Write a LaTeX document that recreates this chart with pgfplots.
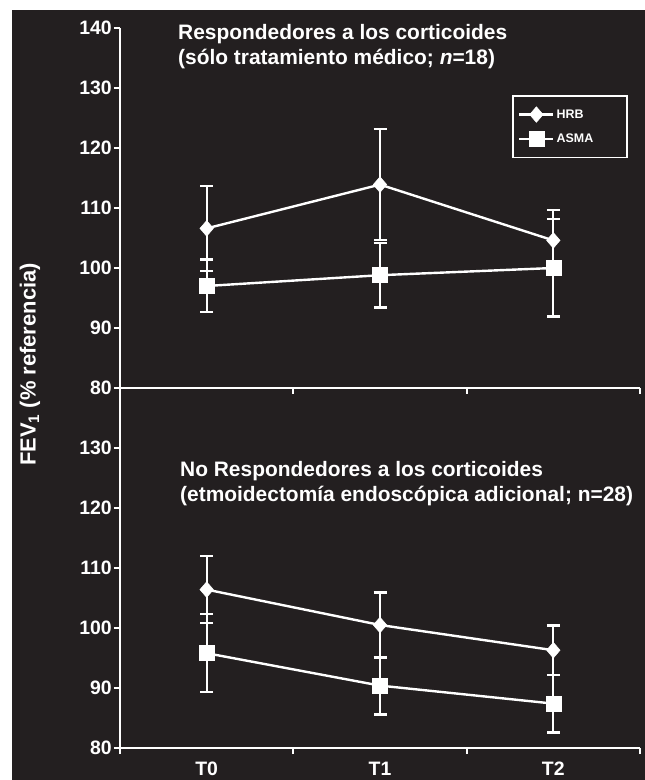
\documentclass[border=0pt]{standalone}
\usepackage{pgfplots}
\pgfplotsset{compat=1.18}
\usepackage{pgfplotstable}
\usepackage{fontspec}
\setmainfont{Liberation Sans}
\definecolor{bg}{RGB}{35,31,32}

\pgfplotstableread{
x y e
0 106.6 7.1
1 113.9 9.3
2 104.6 5.1
}\tophrb
\pgfplotstableread{
x y e
0 97.0 4.4
1 98.8 5.4
2 100.0 8.1
}\topasma
\pgfplotstableread{
x y e
0 106.4 5.6
1 100.5 5.4
2 96.3 4.1
}\bothrb
\pgfplotstableread{
x y e
0 95.8 6.5
1 90.4 4.8
2 87.4 4.8
}\botasma

\begin{document}
\begin{tikzpicture}
\fill[white] (-120bp,-32bp) rectangle (525bp,748bp);
\fill[bg] (-108bp,-32bp) rectangle (525bp,738bp);
\pgfplotsset{
  panel/.style={
    scale only axis, width=520bp, height=360bp,
    xmin=-0.5, xmax=2.5, ymin=80, ymax=140,
    axis lines*=left,
    axis line style={white, line width=2bp},
    tick style={white, line width=2bp},
    tick align=outside,
    major tick length=6bp,
    xtick={-0.5,0.5,1.5,2.5},
    x tick label as interval,
    /pgf/number format/assume math mode=true,
    tick label style={text=white, font=\fontsize{19.5}{20}\selectfont\bfseries},
    yticklabel style={inner xsep=2bp},
    clip=false,
  },
  hrb/.style={white, line width=2.4bp, mark=diamond*, mark size=7.8bp,
    mark options={solid, fill=white, line width=0.5bp, xscale=1.15},
    error bars/.cd, y dir=both, y explicit,
    error bar style={white, line width=2.2bp},
    error mark options={rotate=90, white, line width=2.2bp, mark size=6.5bp}},
  asma/.style={white, line width=2.4bp, mark=square*, mark size=7.5bp,
    mark options={solid, fill=white, line width=0.5bp},
    error bars/.cd, y dir=both, y explicit,
    error bar style={white, line width=2.2bp},
    error mark options={rotate=90, white, line width=2.2bp, mark size=6.5bp}},
}
% bottom panel
\begin{axis}[panel, at={(0bp,0bp)}, anchor=south west,
  ytick={80,90,...,130},
  xticklabels={T0,T1,T2},
  xticklabel style={inner ysep=0bp, yshift=-8bp},
]
\addplot[hrb] table[x=x, y=y, y error=e] {\bothrb};
\addplot[asma] table[x=x, y=y, y error=e] {\botasma};
\end{axis}
% top panel
\begin{axis}[panel, at={(0bp,360bp)}, anchor=south west,
  ytick={80,90,...,140},
  xticklabels={},
  legend style={at={(0.977,0.814)}, anchor=north east, draw=white, line width=1.6bp,
    fill=bg, text=white, font=\fontsize{12.5}{14}\selectfont\bfseries,
    inner xsep=5bp, inner ysep=11bp, row sep=9bp},
  legend cell align=left,
  legend image code/.code={\draw[mark repeat=2, mark phase=2, #1] plot coordinates {(0bp,0bp) (17bp,0bp) (34bp,0bp)};},
]
\addplot[hrb] table[x=x, y=y, y error=e] {\tophrb};
\addlegendentry{HRB}
\addplot[asma] table[x=x, y=y, y error=e] {\topasma};
\addlegendentry{ASMA\hspace*{27bp}}
\end{axis}
% titles
\begin{scope}[every node/.style={text=white, font=\fontsize{21}{25}\selectfont\bfseries, inner sep=0pt, anchor=base west}]
\node at (58bp,708bp) {Respondedores a los corticoides};
\node at (58bp,683bp) {(sólo tratamiento médico; \textit{n}=18)};
\node at (60bp,271bp) {No Respondedores a los corticoides};
\node at (60bp,246bp) {(etmoidectomía endoscópica adicional; n=28)};
\end{scope}
\node[text=white, font=\fontsize{22}{26}\selectfont\bfseries, rotate=90, inner sep=0pt] at (-90bp,383.5bp) {FEV\textsubscript{1} (\% referencia)};
\path[use as bounding box] (-120bp,-32bp) rectangle (525bp,748bp);
\end{tikzpicture}
\end{document}
